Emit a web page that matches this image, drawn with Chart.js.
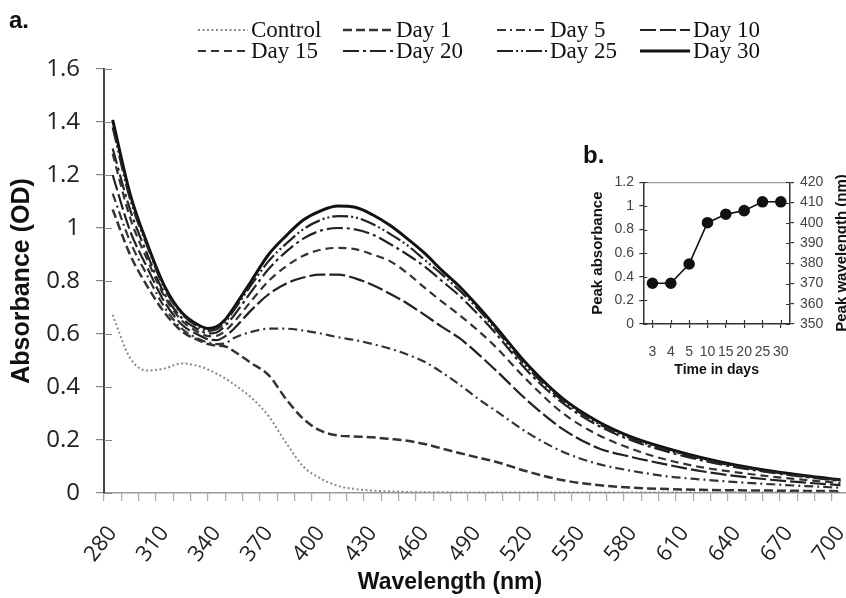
<!DOCTYPE html>
<html lang="en">
<head>
<meta charset="UTF-8">
<title>Absorbance spectra and peak shift</title>
<script src="https://cdn.jsdelivr.net/npm/chart.js"></script>
<style>
  body { margin: 0; background: #fff; }
  #wrap { position: relative; width: 846px; height: 598px; overflow: hidden; }
  #main { position: absolute; left: 0; top: 0; }
  #inset { position: absolute; left: 580px; top: 140px; }
</style>
</head>
<body>
<div id="wrap">
  <canvas id="main" width="846" height="598"></canvas>
  <canvas id="inset" width="266" height="250"></canvas>
</div>
<script>
// spectra (absorbance, OD)
const wavelengths = [280, 290, 300, 310, 320, 330, 335, 340, 345, 350, 360, 370, 380, 390, 400, 410, 420, 430, 440, 450, 460, 470, 480, 490, 500,
                     520, 540, 560, 580, 600, 620, 640, 660, 680, 700];
const control = [0.672, 0.51, 0.462, 0.47, 0.489, 0.478, 0.466, 0.45, 0.432, 0.41, 0.36, 0.29, 0.19, 0.10, 0.055, 0.027, 0.015, 0.009, 0.006, 0.004, 0.003, 0.003, 0.002, 0.002, 0.002,
                 0.002, 0.002, 0.002, 0.002, 0.002, 0.002, 0.002, 0.002, 0.002, 0.002];
const day1 = [1.07, 0.90, 0.78, 0.68, 0.61, 0.575, 0.562, 0.556, 0.553, 0.535, 0.49, 0.445, 0.355, 0.28, 0.235, 0.217, 0.213, 0.21, 0.204, 0.197, 0.185, 0.168, 0.151, 0.135, 0.12,
              0.08, 0.048, 0.03, 0.02, 0.015, 0.012, 0.01, 0.009, 0.008, 0.007];
const day5 = [1.13, 0.95, 0.82, 0.70, 0.62, 0.58, 0.568, 0.562, 0.565, 0.585, 0.608, 0.62, 0.62, 0.613, 0.602, 0.588, 0.577, 0.562, 0.545, 0.523, 0.495, 0.455, 0.41, 0.36, 0.315,
              0.225, 0.155, 0.11, 0.083, 0.063, 0.051, 0.041, 0.033, 0.026, 0.02];
const day10 = [1.20, 0.99, 0.85, 0.72, 0.635, 0.595, 0.58, 0.577, 0.592, 0.62, 0.69, 0.75, 0.79, 0.813, 0.824, 0.824, 0.81, 0.785, 0.752, 0.715, 0.672, 0.627, 0.585, 0.53, 0.47,
               0.345, 0.24, 0.17, 0.135, 0.107, 0.082, 0.064, 0.05, 0.039, 0.03];
const day15 = [1.28, 1.04, 0.88, 0.74, 0.65, 0.605, 0.592, 0.593, 0.612, 0.645, 0.725, 0.80, 0.855, 0.895, 0.918, 0.925, 0.92, 0.90, 0.875, 0.83, 0.775, 0.722, 0.672, 0.618, 0.558,
               0.42, 0.30, 0.22, 0.165, 0.125, 0.097, 0.078, 0.062, 0.049, 0.038];
const day20 = [1.30, 1.07, 0.90, 0.75, 0.66, 0.615, 0.602, 0.606, 0.632, 0.67, 0.76, 0.845, 0.91, 0.96, 0.99, 1.0, 0.995, 0.975, 0.94, 0.90, 0.855, 0.80, 0.745, 0.68, 0.61,
               0.456, 0.338, 0.255, 0.197, 0.156, 0.123, 0.097, 0.077, 0.06, 0.046];
const day25 = [1.38, 1.11, 0.93, 0.77, 0.675, 0.625, 0.612, 0.618, 0.645, 0.69, 0.785, 0.875, 0.94, 0.995, 1.03, 1.045, 1.04, 1.015, 0.978, 0.935, 0.88, 0.825, 0.765, 0.70, 0.625,
               0.468, 0.347, 0.263, 0.204, 0.162, 0.128, 0.101, 0.08, 0.063, 0.048];
const day30 = [1.408, 1.13, 0.94, 0.78, 0.68, 0.632, 0.621, 0.628, 0.655, 0.70, 0.80, 0.90, 0.97, 1.03, 1.065, 1.083, 1.078, 1.05, 1.01, 0.96, 0.905, 0.84, 0.78, 0.71, 0.635,
               0.48, 0.355, 0.27, 0.21, 0.168, 0.133, 0.105, 0.083, 0.065, 0.05];
const seriesNames = ['Control', 'Day 1', 'Day 5', 'Day 10', 'Day 15', 'Day 20', 'Day 25', 'Day 30'];

// axis ticks
const xTicks = [280, 290, 300, 310, 320, 330, 340, 350, 360, 370, 380, 390, 400, 410, 420, 430, 440, 450, 460, 470, 480,
                490, 500, 510, 520, 530, 540, 550, 560, 570, 580, 590, 600, 610, 620, 630, 640, 650, 660, 670, 680, 690, 700];
const xLabels = [280, 310, 340, 370, 400, 430, 460, 490, 520, 550, 580, 610, 640, 670, 700];
const yTicks = [0, 0.2, 0.4, 0.6, 0.8, 1, 1.2, 1.4, 1.6];
const yTickLabels = ['0', '0.2', '0.4', '0.6', '0.8', '1', '1.2', '1.4', '1.6'];

// inset b: peak absorbance over time
const insetDays = ['3', '4', '5', '10', '15', '20', '25', '30'];
const peakAbsorbance = [0.345, 0.345, 0.508, 0.858, 0.93, 0.96, 1.035, 1.035];
const insetYTicks = [0, 0.2, 0.4, 0.6, 0.8, 1, 1.2];
const insetYLabels = ['0', '0.2', '0.4', '0.6', '0.8', '1', '1.2'];
const insetY2Ticks = [350, 360, 370, 380, 390, 400, 410, 420];

const series = [control, day1, day5, day10, day15, day20, day25, day30];
const lineStyles = [
  { color: '#8a8a8a', width: 2, dash: [2, 2.5] },
  { color: '#333', width: 2.5, dash: [9, 4] },
  { color: '#333', width: 2.2, dash: [9, 4, 2, 4] },
  { color: '#222', width: 2.2, dash: [16, 4] },
  { color: '#333', width: 2.2, dash: [8, 5] },
  { color: '#222', width: 2.2, dash: [16, 4, 3, 4] },
  { color: '#222', width: 2.2, dash: [16, 3, 2, 3, 2, 3] },
  { color: '#111', width: 3, dash: [] }
];

const sansBold = '"Liberation Sans", Arial, sans-serif';

// tick marks that cross the axis line (Excel style)
const crossTicks = {
  id: 'crossTicks',
  afterDraw(chart, args, opts) {
    if (!opts.axes) return;
    const ctx = chart.ctx;
    ctx.save();
    opts.axes.forEach(a => {
      const s = chart.scales[a.id];
      ctx.strokeStyle = a.color;
      ctx.lineWidth = a.width;
      ctx.beginPath();
      s.ticks.forEach((t, i) => {
        const p = Math.round(s.getPixelForTick(i)) + 0.5;
        if (s.position === 'left') { ctx.moveTo(s.right, p); ctx.lineTo(s.right + a.len, p); }
        else if (s.position === 'right') { ctx.moveTo(s.left, p); ctx.lineTo(s.left - a.len, p); }
        else { ctx.moveTo(p, s.top); ctx.lineTo(p, s.top - a.len); }
      });
      ctx.stroke();
    });
    ctx.restore();
  }
};

// panel letters, x title and the two-row legend
const panelText = {
  id: 'panelText',
  afterDraw(chart) {
    const ctx = chart.ctx;
    ctx.save();
    ctx.fillStyle = '#111';
    ctx.font = 'bold 24px ' + sansBold;
    ctx.textAlign = 'left';
    ctx.textBaseline = 'alphabetic';
    ctx.fillText('a.', 9, 28);
    ctx.fillText('b.', 583, 163);

    ctx.font = 'bold 23px ' + sansBold;
    ctx.textAlign = 'center';
    ctx.textBaseline = 'middle';
    ctx.fillText('Wavelength (nm)', 450, 583);

    const cols = [198, 343, 497, 640];
    const rows = [30, 51];
    ctx.font = '23px "Liberation Serif", "Times New Roman", serif';
    ctx.textAlign = 'left';
    chart.data.datasets.forEach((ds, i) => {
      const x = cols[i % 4], y = rows[Math.floor(i / 4)];
      ctx.strokeStyle = ds.borderColor;
      ctx.lineWidth = ds.borderWidth;
      ctx.setLineDash(ds.borderDash);
      ctx.beginPath();
      ctx.moveTo(x, y);
      ctx.lineTo(x + 50, y);
      ctx.stroke();
      ctx.setLineDash([]);
      ctx.fillStyle = '#111';
      ctx.fillText(ds.label, x + 53, y + 1);
    });
    ctx.restore();
  }
};

new Chart(document.getElementById('main'), {
  type: 'line',
  data: {
    datasets: series.map((vals, i) => ({
      label: seriesNames[i],
      data: vals.map((v, j) => ({ x: wavelengths[j], y: v })),
      borderColor: lineStyles[i].color,
      borderWidth: lineStyles[i].width,
      borderDash: lineStyles[i].dash,
      fill: false
    }))
  },
  options: {
    responsive: false,
    animation: false,
    layout: { padding: { top: 69, left: 0, right: 0, bottom: 0 } },
    elements: {
      point: { radius: 0 },
      line: { cubicInterpolationMode: 'monotone', borderCapStyle: 'butt' }
    },
    plugins: {
      legend: { display: false },
      tooltip: { enabled: false },
      crossTicks: { axes: [{ id: 'y', len: 8, color: '#888', width: 1.2 }] }
    },
    scales: {
      x: {
        type: 'linear',
        min: 275,
        max: 703.2,
        afterBuildTicks: s => { s.ticks = xTicks.map(v => ({ value: v })); },
        afterFit: s => { s.height = 105; s.paddingLeft = 0; s.paddingRight = 0; },
        ticks: {
          autoSkip: false,
          minRotation: 52,
          maxRotation: 52,
          padding: 20,
          color: '#222',
          font: { family: '"Open Sans", sans-serif', size: 22 },
          callback: v => xLabels.includes(v) ? String(v) : ''
        },
        grid: { offset: true, drawOnChartArea: false, tickLength: 8, color: '#aaa', lineWidth: 1.2 },
        border: { color: '#999', width: 1.5 }
      },
      y: {
        min: 0,
        max: 1.6,
        afterBuildTicks: s => { s.ticks = yTicks.map(v => ({ value: v })); },
        afterFit: s => { s.width = 104; s.paddingTop = 0; s.paddingBottom = 0; },
        ticks: {
          padding: 16,
          color: '#222',
          font: { family: '"Open Sans", sans-serif', size: 24 },
          callback: (v, i) => yTickLabels[i]
        },
        grid: { drawOnChartArea: false, tickLength: 8, color: '#888', lineWidth: 1.2 },
        border: { color: '#444', width: 2 },
        title: {
          display: true,
          text: 'Absorbance (OD)',
          color: '#111',
          font: { family: sansBold, size: 25, weight: 'bold' },
          padding: { top: 7, bottom: 0 }
        }
      }
    }
  },
  plugins: [crossTicks, panelText]
});

// right-hand title of the inset reads bottom to top
const insetText = {
  id: 'insetText',
  afterDraw(chart) {
    const ctx = chart.ctx;
    ctx.save();
    ctx.translate(262, 113);
    ctx.rotate(-Math.PI / 2);
    ctx.font = 'bold 15px ' + sansBold;
    ctx.fillStyle = '#111';
    ctx.textAlign = 'center';
    ctx.textBaseline = 'middle';
    ctx.fillText('Peak wavelength (nm)', 0, 0);
    ctx.restore();
  }
};

const narrow = '"Liberation Sans Narrow", "Liberation Sans", Arial, sans-serif';

new Chart(document.getElementById('inset'), {
  type: 'line',
  data: {
    labels: insetDays,
    datasets: [{
      label: 'Peak absorbance',
      data: peakAbsorbance,
      borderColor: '#111',
      borderWidth: 1.6,
      pointRadius: 5,
      pointBackgroundColor: '#111',
      pointBorderColor: '#111',
      tension: 0,
      yAxisID: 'y'
    }]
  },
  options: {
    responsive: false,
    animation: false,
    layout: { padding: { top: 42.3, left: 0, right: 0, bottom: 0 } },
    plugins: {
      legend: { display: false },
      tooltip: { enabled: false },
      crossTicks: {
        axes: [
          { id: 'x', len: 4, color: '#333', width: 1.2 },
          { id: 'y', len: 4, color: '#333', width: 1.2 },
          { id: 'y2', len: 4, color: '#333', width: 1.2 }
        ]
      }
    },
    scales: {
      x: {
        type: 'category',
        offset: true,
        afterFit: s => { s.height = 66; s.paddingLeft = 0; s.paddingRight = 0; },
        ticks: { autoSkip: false, maxRotation: 0, padding: 15.6, color: '#444', font: { family: narrow, size: 14 } },
        grid: { drawOnChartArea: false, tickLength: 4, color: '#333', lineWidth: 1.2 },
        border: { color: '#333', width: 1.5 },
        title: {
          display: true,
          text: 'Time in days',
          color: '#111',
          font: { family: sansBold, size: 14, weight: 'bold' },
          padding: { top: 0, bottom: 11.6 }
        }
      },
      y: {
        position: 'left',
        min: 0,
        max: 1.2,
        afterBuildTicks: s => { s.ticks = insetYTicks.map(v => ({ value: v })); },
        afterFit: s => { s.width = 63.3; s.paddingTop = 0; s.paddingBottom = 0; },
        ticks: { padding: 5.3, color: '#444', font: { family: narrow, size: 14 }, callback: (v, i) => insetYLabels[i] },
        grid: {
          color: c => (c.tick && c.tick.value === 1.2) ? '#9a9a9a' : 'rgba(0,0,0,0)',
          tickColor: '#333',
          tickLength: 4,
          lineWidth: 1.2
        },
        border: { color: '#333', width: 1.5 },
        title: {
          display: true,
          text: 'Peak absorbance',
          color: '#111',
          font: { family: sansBold, size: 15, weight: 'bold' },
          padding: { top: 9, bottom: 0 }
        }
      },
      y2: {
        position: 'right',
        min: 350,
        max: 420,
        afterBuildTicks: s => { s.ticks = insetY2Ticks.map(v => ({ value: v })); },
        afterFit: s => { s.width = 56; s.paddingTop = 0; s.paddingBottom = 0; },
        ticks: { padding: 6, color: '#444', font: { family: narrow, size: 14 } },
        grid: { drawOnChartArea: false, tickLength: 4, color: '#333', lineWidth: 1.2 },
        border: { color: '#333', width: 1.5 }
      }
    }
  },
  plugins: [crossTicks, insetText]
});
</script>
</body>
</html>
